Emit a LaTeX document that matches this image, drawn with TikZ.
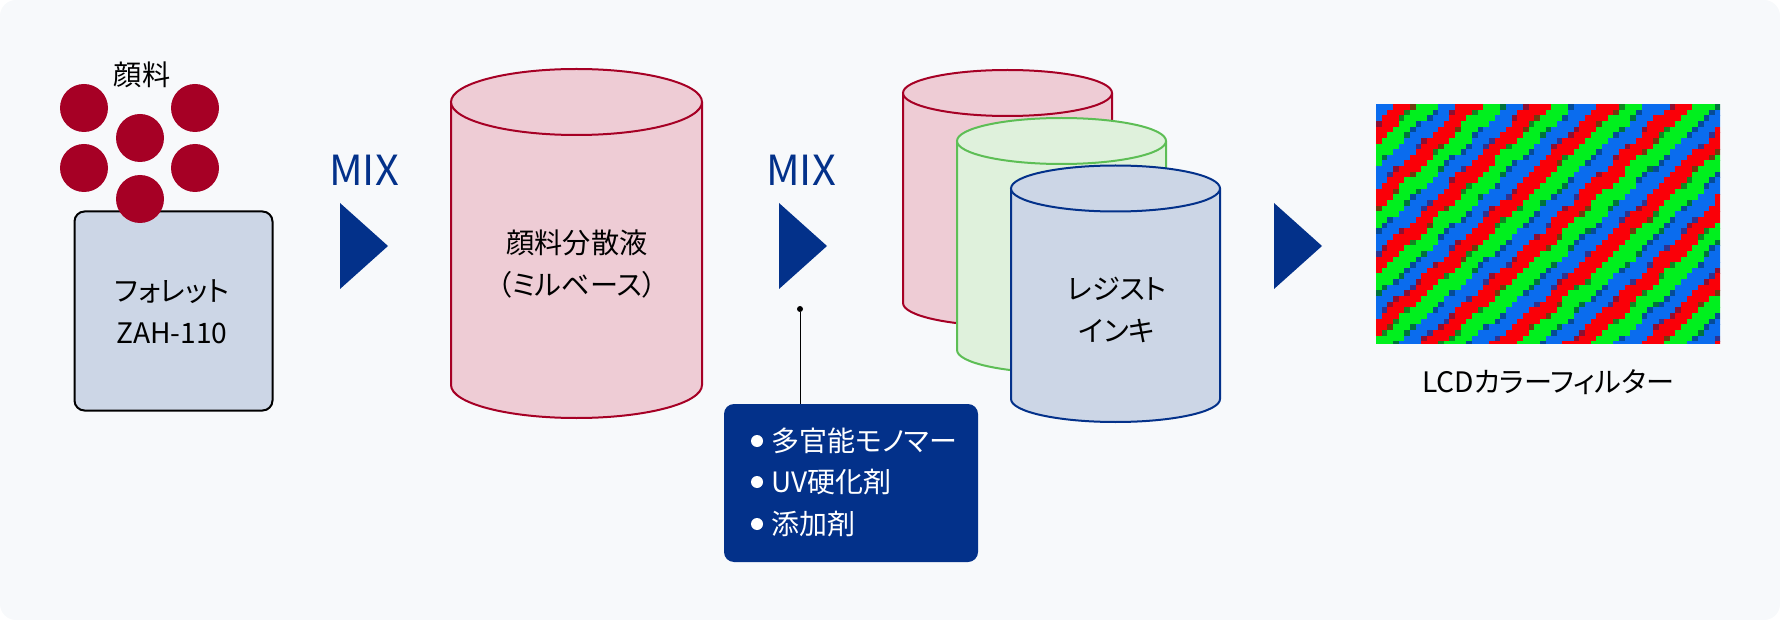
\documentclass[tikz,border=0pt]{standalone}
\usepackage{fontspec}
\setmainfont{Noto Sans CJK JP}[RawFeature=+palt]
\definecolor{fondo}{HTML}{F7F9FB}
\definecolor{marino}{HTML}{03318A}
\definecolor{granate}{HTML}{A60025}
\definecolor{rosado}{HTML}{EECCD5}
\definecolor{verde}{HTML}{5DBE55}
\definecolor{verdeclaro}{HTML}{DFF1DC}
\definecolor{azulclaro}{HTML}{CCD6E6}
\definecolor{pixrojo}{HTML}{FA0008}
\definecolor{pixverde}{HTML}{00F01E}
\definecolor{pixazul}{HTML}{0A6CEE}
\definecolor{pixa}{RGB}{50,50,140}
\definecolor{pixb}{RGB}{140,15,50}
\definecolor{pixc}{RGB}{110,60,15}
\definecolor{pixd}{RGB}{15,135,35}
\definecolor{pixe}{RGB}{0,115,60}
\definecolor{pixf}{RGB}{5,75,150}
\tikzset{
	rotulo/.style={align=center, font=\fontsize{28.2}{42}\selectfont},
	mezcla/.style={text=marino, font=\fontsize{41.5}{41.5}\selectfont},
	particula/.style={circle, fill=granate, inner sep=0pt, minimum size=48pt},
	flecha/.style={fill=marino},
	vineta/.style={circle, fill=white, inner sep=0pt, minimum size=12pt},
	lista/.style={anchor=west, text=white, font=\fontsize{28}{28}\selectfont},
}
\begin{document}
\begin{tikzpicture}[x=1pt,y=-1pt]
		
		% Fondo
		\useasboundingbox (0,0) rectangle (1780,620);
		\fill[fondo, rounded corners=16pt] (0,0) rectangle (1780,620);
		
		% Pellet y particulas de pigmento
		\node[draw=black, line width=2pt, fill=azulclaro, rounded corners=10pt, minimum width=198pt, minimum height=199pt, inner sep=0pt] (pellet) at (173.5,311) {};
		\node[rotulo] (pelletrot) at (172,312) {フォレット\\ZAH-110};
		\foreach \x/\y [count=\i] in {84/108,195/108,84/168,195/168,140/138,140/199} {
			\node[particula] (p\i) at (\x,\y) {};
		}
		\node[rotulo] (pigmento) at (142,75) {顔料};
		
		% Textos MIX y triangulos
		\node[mezcla] (mix1) at (364,170) {MIX};
		\node[mezcla] (mix2) at (801,170) {MIX};
		\foreach \x in {340,779,1274} {
			\fill[flecha] (\x,203) -- (\x+48,246) -- (\x,289) -- cycle;
		}
		
		% Depositos
		\foreach \x/\y/\rx/\ry/\alto/\borde/\relleno in {
			576.5/102/125.5/33/283/granate/rosado,
			1007.5/93/104.5/23/210/granate/rosado,
			1061.5/141/104.5/23/209/verde/verdeclaro,
			1115.5/188.5/104.5/23/210.5/marino/azulclaro} {
			\draw[draw=\borde, fill=\relleno, line width=2pt] (\x-\rx,\y) -- (\x-\rx,\y+\alto)
				arc[start angle=180, end angle=0, x radius=\rx, y radius=\ry] -- (\x+\rx,\y);
			\draw[draw=\borde, fill=\relleno, line width=2pt] (\x,\y) ellipse [x radius=\rx, y radius=\ry];
		}
		\node[rotulo] (base) at (577,264) {顔料分散液\\（ミルベース）};
		\node[rotulo] (tinta) at (1117,310) {レジスト\\インキ};
		
		% Aditivos
		\node[fill=marino, rounded corners=10pt, minimum width=254pt, minimum height=158pt, inner sep=0pt] (aditivos) at (851,483) {};
		\node[circle, fill=black, inner sep=0pt, minimum size=6pt] (punto) at (800,309) {};
		\draw[line width=1pt] (punto) -- (punto |- aditivos.north);
		\foreach \y/\t [count=\i] in {441/多官能モノマー,482/UV硬化剤,524/添加剤} {
			\node[vineta] (v\i) at (757,\y) {};
			\node[lista] (l\i) at (768,\y) {\t};
		}
		
		% Filtro de color
		\begin{scope}
			\clip (1376,104) rectangle (1720,343);
			\foreach \c in {0,...,60} {
				\foreach \f in {0,...,42} {
					\pgfmathsetmacro{\fase}{mod(0.1+\c/12.4+\f/11.8+0.06*sin(\c*3+\f*2)+0.04*sin(\c*2-\f*5)+0.03*sin(\c*33-\f*31)+0.015*sin(\c*131+\f*97)+1,1)}
					\pgfmathsetmacro{\tono}{\fase<0.29 ? "pixazul" : (\fase<0.305 ? "pixa" : (\fase<0.32 ? "pixb" : (\fase<0.61 ? "pixrojo" : (\fase<0.625 ? "pixc" : (\fase<0.64 ? "pixd" : (\fase<0.95 ? "pixverde" : (\fase<0.965 ? "pixe" : "pixf")))))))}
					\fill[\tono] (1376+\c*5.65,104+\f*5.65) rectangle +(6,6);
				}
			}
		\end{scope}
		\node[rotulo] (filtrorot) at (1548,382) {LCDカラーフィルター};
		
\end{tikzpicture}
\end{document}
